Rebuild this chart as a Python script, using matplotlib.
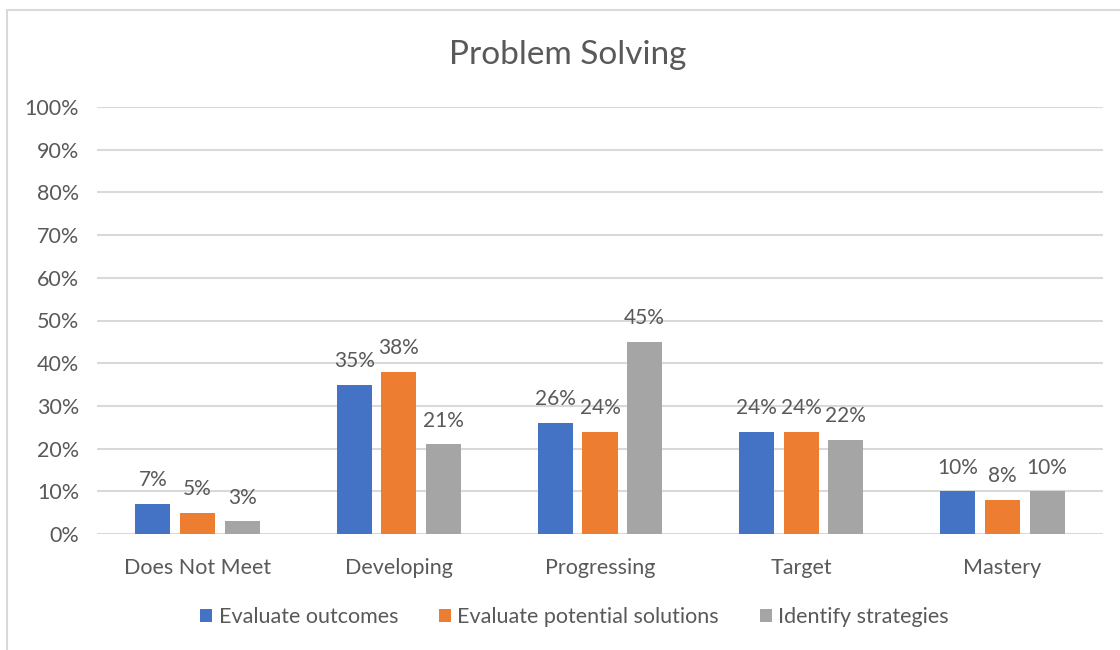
import matplotlib
matplotlib.use("Agg")
import matplotlib.pyplot as plt
from matplotlib.patches import Rectangle
import numpy as np

categories = ["Does Not Meet", "Developing", "Progressing", "Target", "Mastery"]
series_names = ["Evaluate outcomes", "Evaluate potential solutions", "Identify strategies"]
evaluate_outcomes = [7, 35, 26, 24, 10]
evaluate_solutions = [5, 38, 24, 24, 8]
identify_strategies = [3, 21, 45, 22, 10]
y_ticks = [0, 10, 20, 30, 40, 50, 60, 70, 80, 90, 100]

colors = ["#4472C4", "#ED7D31", "#A5A5A5"]
text_color = "#595959"
grid_color = "#D9D9D9"

plt.rcParams["font.family"] = ["Lato", "DejaVu Sans"]

fig = plt.figure(figsize=(11.2, 6.5), dpi=100)
fig.patch.set_facecolor("white")

# light chart-area border (only top and left edges fall inside the canvas)
fig.patches.append(Rectangle((7 / 1120, -0.1), 1.2, 1 - 10 / 650 + 0.1,
                             transform=fig.transFigure, fill=False,
                             edgecolor="#D9D9D9", linewidth=1.5, zorder=0))

ax = fig.add_axes([97 / 1120, 1 - 534 / 650, (1103 - 97) / 1120, (534 - 107) / 650])
ax.set_facecolor("none")

x = np.arange(len(categories))
bar_w = 0.174
step = 0.222
all_series = [evaluate_outcomes, evaluate_solutions, identify_strategies]
for i, (vals, name, c) in enumerate(zip(all_series, series_names, colors)):
    pos = x + (i - 1) * step
    ax.bar(pos, vals, width=bar_w, color=c, label=name, zorder=3)
    for px, v in zip(pos, vals):
        ax.text(px, v + 3.2, f"{v}%", ha="center", va="bottom",
                fontsize=15, color=text_color)

ax.set_xlim(-0.5, len(categories) - 0.5)
ax.set_ylim(0, 100)
ax.set_yticks(y_ticks)
ax.set_yticklabels([f"{t}%" for t in y_ticks])
ax.set_xticks(x)
ax.set_xticklabels(categories)
ax.tick_params(axis="both", length=0, labelsize=15.5, labelcolor=text_color)
ax.tick_params(axis="y", pad=13)
ax.tick_params(axis="x", pad=17)
for s in ax.spines.values():
    s.set_visible(False)
ax.grid(axis="y", color=grid_color, linewidth=1.5, zorder=0)
ax.set_axisbelow(True)

fig.text(0.507, 1 - 55 / 650, "Problem Solving", ha="center", va="center",
         fontsize=24, color=text_color)

leg = fig.legend(loc="center", bbox_to_anchor=(0.513, 1 - 617 / 650), ncol=3,
                 frameon=False, fontsize=15.5, handlelength=0.55, handleheight=0.55,
                 handletextpad=0.3, columnspacing=1.9)
for t in leg.get_texts():
    t.set_color(text_color)

fig.savefig("out.png", dpi=100, facecolor="white")
